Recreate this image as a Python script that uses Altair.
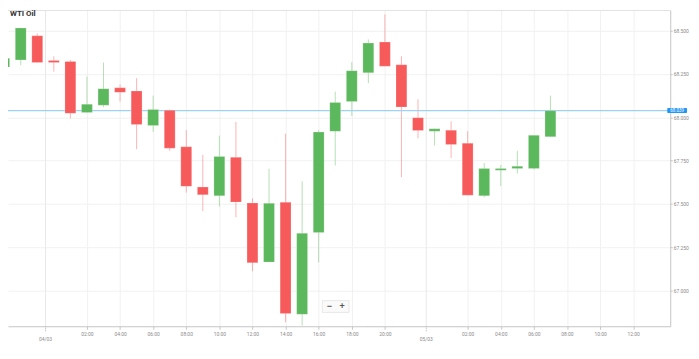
import altair as alt
import pandas as pd

# ---- data (hourly candles, slot 0 = 04/03 00:00; 23:00 session break skipped) ----
slots  = [-3, -2, -1, 0, 1, 2, 3, 4, 5, 6, 7, 8, 9, 10, 11, 12, 13, 14, 15, 16,
          17, 18, 19, 20, 21, 22, 23, 24, 25, 26, 27, 28, 29, 30]
opens  = [68.290, 68.331, 68.470, 68.328, 68.322, 68.028, 68.070, 68.170, 68.152, 67.953,
          68.040, 67.830, 67.598, 67.547, 67.769, 67.506, 67.165, 67.510, 66.864, 67.335,
          67.919, 68.091, 68.257, 68.434, 68.303, 67.998, 67.920, 67.926, 67.851, 67.547,
          67.695, 67.705, 67.705, 67.888]
highs  = [68.345, 68.517, 68.483, 68.352, 68.331, 68.235, 68.316, 68.189, 68.226, 68.125,
          68.045, 67.926, 67.784, 67.894, 67.973, 67.532, 67.703, 67.905, 67.632, 67.926,
          68.148, 68.318, 68.449, 68.593, 68.352, 68.104, 67.934, 67.977, 67.920, 67.737,
          67.726, 67.807, 67.896, 68.125]
lows   = [68.285, 68.301, 68.316, 68.263, 67.994, 68.028, 68.059, 68.091, 67.816, 67.916,
          67.807, 67.566, 67.459, 67.485, 67.424, 67.112, 67.165, 66.818, 66.799, 67.163,
          67.722, 68.007, 68.197, 68.295, 67.655, 67.879, 67.837, 67.765, 67.551, 67.538,
          67.604, 67.676, 67.699, 67.888]
closes = [68.341, 68.515, 68.316, 68.316, 68.023, 68.076, 68.165, 68.144, 67.959, 68.045,
          67.822, 67.602, 67.553, 67.774, 67.511, 67.161, 67.504, 66.869, 67.331, 67.915,
          68.085, 68.269, 68.428, 68.295, 68.059, 67.924, 67.934, 67.843, 67.551, 67.705,
          67.705, 67.718, 67.896, 68.038]

hour_tick_slots  = [2, 4, 6, 8, 10, 12, 14, 16, 18, 20, 25, 27, 29, 31, 33, 35]
hour_tick_labels = ["02:00", "04:00", "06:00", "08:00", "10:00", "12:00", "14:00", "16:00",
                    "18:00", "20:00", "02:00", "04:00", "06:00", "08:00", "10:00", "12:00"]
day_slots  = [-0.5, 22.5]
day_labels = ["04/03", "05/03"]
y_ticks = [67.0, 67.25, 67.5, 67.75, 68.0, 68.25, 68.5]
chart_title = "WTI Oil"
last_price = 68.039
zoom_buttons = ["−", "+"]

W, H = 670, 320
UP, DOWN = "#5cb85c", "#f65a5a"

df = pd.DataFrame({"slot": slots, "open": opens, "high": highs, "low": lows, "close": closes})
df["dir"] = ["up" if c >= o else "down" for o, c in zip(opens, closes)]

xscale = alt.Scale(domain=[-2.47, 36.94], nice=False, zero=False)
yscale = alt.Scale(domain=[66.795, 68.619], nice=False, zero=False)
color = alt.Color("dir:N", scale=alt.Scale(domain=["up", "down"], range=[UP, DOWN]), legend=None)

label_expr = " : ".join(f"datum.value == {v} ? '{l}'" for v, l in zip(hour_tick_slots, hour_tick_labels)) + " : ''"

x_axis = alt.Axis(values=hour_tick_slots, labelExpr=label_expr, grid=True, gridColor="#f1f1f1",
                  domainColor="#c4c4c4", tickColor="#c4c4c4", tickSize=3, labelFontSize=5,
                  labelColor="#8a8a8a", labelPadding=2, title=None, labelFont="Roboto")
y_axis = alt.Axis(orient="right", values=y_ticks, format=".3f", grid=True, gridColor="#f1f1f1",
                  domainColor="#c4c4c4", tickColor="#c4c4c4", tickSize=2, labelFontSize=5,
                  labelColor="#8a8a8a", labelPadding=1, title=None, labelFont="Roboto")


def X(field):
    return alt.X(field, scale=xscale, axis=x_axis, title=None)


def Y(field):
    return alt.Y(field, scale=yscale, axis=y_axis, title=None)


wicks = alt.Chart(df).mark_rule(strokeWidth=1, opacity=0.45, clip=True).encode(
    x=X("slot:Q"), y=Y("low:Q"), y2="high:Q", color=color)

bodies = alt.Chart(df).mark_bar(width=11, clip=True, stroke="white", strokeWidth=0.6,
                                strokeOpacity=0.35).encode(
    x=X("slot:Q"), y=Y("open:Q"), y2="close:Q", color=color)

days = pd.DataFrame({"slot": day_slots, "label": day_labels})
day_grid = alt.Chart(days).mark_rule(color="#e8e8e8", strokeWidth=1).encode(
    x=X("slot:Q"), y=alt.value(0), y2=alt.value(H))
day_tick = alt.Chart(days).mark_rule(color="#b5b5b5", strokeWidth=1, strokeDash=[1, 1]).encode(
    x=X("slot:Q"), y=alt.value(H), y2=alt.value(H + 6))
day_text = alt.Chart(days).mark_text(fontSize=5, color="#8a8a8a", font="Roboto",
                                     baseline="middle").encode(
    x=X("slot:Q"), y=alt.value(H + 13), text="label:N")

top_border = alt.Chart(days.head(1)).mark_rule(color="#e2e2e2", strokeWidth=1).encode(
    x=alt.value(0), x2=alt.value(W), y=alt.value(0.5))

price = pd.DataFrame({"price": [last_price], "label": [f"{last_price:.3f}"]})
price_line = alt.Chart(price).mark_rule(color="#9dd2f6", strokeWidth=1.3).encode(
    y=Y("price:Q"))
price_box = alt.Chart(price).mark_tick(color="#2196f3", thickness=5, size=20, opacity=1,
                                       cornerRadius=1).encode(
    y=Y("price:Q"), x=alt.value(W + 7))
price_text = alt.Chart(price).mark_text(color="white", fontSize=4.5, font="Roboto",
                                        baseline="middle", align="center").encode(
    y=Y("price:Q"), x=alt.value(W + 7), text="label:N")

title = alt.Chart(days.head(1)).mark_text(text=chart_title, fontSize=8, fontWeight="bold",
                                          color="#333333", font="Roboto", align="left",
                                          baseline="middle").encode(
    x=alt.value(2), y=alt.value(4))

zb = pd.DataFrame({"b": zoom_buttons})
zoom_box = alt.Chart(zb.head(1)).mark_rect(fill="#fafafa", stroke="#e3e3e3", strokeWidth=0.8).encode(
    x=alt.value(318), x2=alt.value(345), y=alt.value(294), y2=alt.value(306))
zoom_minus = alt.Chart(zb.head(1)).mark_text(fontSize=9, fontWeight="bold", color="#555555",
                                             baseline="middle").encode(
    x=alt.value(325), y=alt.value(300), text="b:N")
zoom_plus = alt.Chart(zb.tail(1)).mark_text(fontSize=9, fontWeight="bold", color="#555555",
                                            baseline="middle").encode(
    x=alt.value(338), y=alt.value(300), text="b:N")

chart = alt.layer(
    wicks, day_grid, top_border, price_line, bodies, day_tick, day_text,
    price_box, price_text, title, zoom_box, zoom_minus, zoom_plus
).properties(
    width=W, height=H,
    autosize=alt.AutoSizeParams(type="none"),
    padding={"left": 0, "top": 0, "right": 21, "bottom": 20},
).configure(background="white").configure_view(stroke=None)

chart.save("out.html", embed_options={"renderer": "svg", "actions": False})
